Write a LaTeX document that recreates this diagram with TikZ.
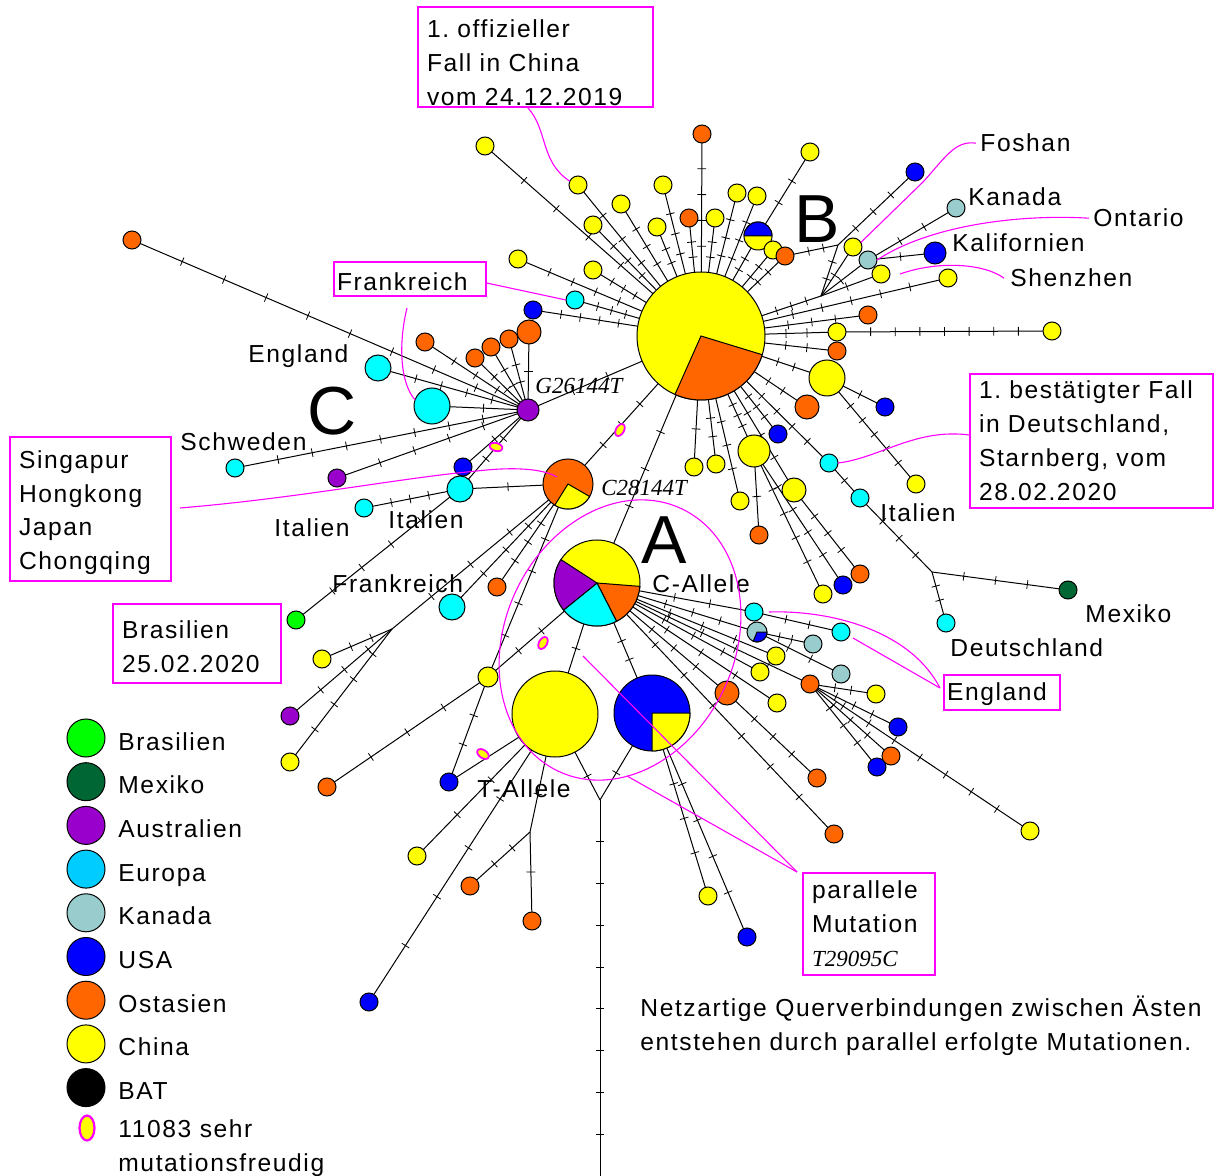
\documentclass[tikz,border=0pt]{standalone}
\usepackage{fontspec}
\setmainfont{Liberation Sans}[LetterSpace=6.5]
\newfontfamily\tnr{Liberation Serif}
\usetikzlibrary{decorations.markings,shapes.geometric}
\definecolor{yel}{HTML}{FFFF00}
\definecolor{org}{HTML}{FF6600}
\definecolor{blu}{HTML}{0000FF}
\definecolor{cyn}{HTML}{00FFFF}
\definecolor{pur}{HTML}{9900CC}
\definecolor{kan}{HTML}{99CCCC}
\definecolor{dgr}{HTML}{006633}
\definecolor{grn}{HTML}{00FF00}
\definecolor{eur}{HTML}{00CCFF}
\definecolor{pnk}{HTML}{FF00FF}
\pgfdeclarelayer{bg}
\pgfsetlayers{bg,main}
\newcommand\fsz{\fontsize{12.3}{17}\selectfont}
\newcommand\fbig{\fontsize{34}{40}\selectfont}
\newcommand\fitl{\fontsize{11.5}{17}\selectfont\tnr\itshape}
\newcommand\tkmark{\draw[line width=0.4pt,black] (0pt,-2.2pt)--(0pt,2.2pt);}
\tikzset{
 nd/.style 2 args={circle,draw=black,line width=0.5pt,fill=#1,minimum size=#2pt,inner sep=0pt,outer sep=0pt},
 ed/.style={line width=0.5pt,draw=black},
 tk/.code={\pgfmathsetmacro\tkst{1/(#1+1)}\pgfmathsetmacro\tken{#1/(#1+1)+0.01}\tikzset{postaction={decorate,decoration={markings,mark=between positions {\tkst} and {\tken} step {\tkst} with {\tkmark}}}}},
 mk/.style={ellipse,draw=pnk,line width=0.9pt,fill=yel,minimum width=6.5pt,minimum height=4pt,inner sep=0pt},
 pl/.style={draw=pnk,line width=0.55pt},
 lab/.style={anchor=base west,inner sep=0pt,font=\fsz},
 big/.style={inner sep=0pt,font=\fbig},
 itl/.style={anchor=base west,inner sep=0pt,font=\fitl},
 bx/.style={draw=pnk,line width=0.6pt,align=left,inner xsep=4.5pt,inner ysep=0pt,font=\fsz},
}
\newcommand\Nd[5]{\node[nd={#4}{#5}] (#1) at (#2,#3) {};}
\newcommand\Ed[3]{\draw[ed,tk=#3] (#1) -- (#2);}
\newcommand\Ez[2]{\draw[ed] (#1) -- (#2);}
\newcommand\Pie[5]{\filldraw[fill=#2,line width=0.5pt] (#1.center) -- ++(#3:#5) arc[start angle=#3,end angle=#4,radius=#5] -- cycle;}
\newcommand\up[1]{\rule{0pt}{#1pt}}
\begin{document}
\begin{tikzpicture}[x=0.5pt,y=-0.5pt]
\useasboundingbox (0,0) rectangle (1216,1176);
% ---------------- hub B and top cluster
\Nd{B}{701}{336}{yel}{64}
\Nd{t1}{485}{146}{yel}{9}
\Nd{t2}{578}{185}{yel}{9}
\Nd{t3}{621}{204}{yel}{9}
\Nd{t4}{593}{225}{yel}{9}
\Nd{t5}{593}{270}{yel}{9}
\Nd{t6}{518}{259}{yel}{9}
\Nd{t7}{575}{300}{cyn}{9}
\Nd{t8}{533}{310}{blu}{9}
\Nd{t9}{663}{185}{yel}{9}
\Nd{t10}{657}{227}{yel}{9}
\Nd{t11}{702}{134}{org}{9}
\Nd{t12}{689}{218}{org}{9}
\Nd{t13}{715}{218}{yel}{9}
\Nd{t14}{737}{193}{yel}{9}
\Nd{t15}{757}{196}{yel}{9}
\Nd{t16}{758}{236}{yel}{14}
\Nd{t17}{810}{152}{yel}{9}
\Nd{t18}{773}{250}{yel}{9}
\Nd{t19}{785}{256}{org}{9}
\coordinate (J1) at (838,245);
\coordinate (J2) at (821,296);
\Nd{r1}{915}{172}{blu}{9}
\Nd{r2}{956}{208}{kan}{9}
\Nd{r3}{853}{247}{yel}{9}
\Nd{r4}{868}{260}{kan}{9}
\Nd{r5}{935}{253}{blu}{11}
\Nd{r6}{881}{274}{yel}{9}
\Nd{r7}{948}{278}{yel}{9}
\Nd{r8}{868}{315}{org}{9}
\Nd{r9}{837}{332}{yel}{9}
\Nd{r10}{1052}{331}{yel}{9}
\Nd{r11}{837}{351}{org}{9}
\Nd{r12}{827}{378}{yel}{18}
\Nd{r13}{885}{407}{blu}{9}
\Nd{r14}{807}{407}{org}{12}
\Nd{r15}{778}{434}{blu}{9}
\Nd{r16}{754}{451}{yel}{16}
\Nd{r17}{829}{463}{cyn}{9}
\Nd{r18}{860}{498}{cyn}{9}
\Nd{r19}{916}{484}{yel}{9}
\coordinate (J3) at (932,572);
\Nd{r20}{1068}{590}{dgr}{9}
\Nd{r21}{946}{623}{cyn}{9}
\Nd{s1}{694}{467}{yel}{9}
\Nd{s2}{716}{464}{yel}{9}
\Nd{s3}{740}{501}{yel}{9}
\Nd{s4}{759}{535}{org}{9}
\Nd{s5}{794}{490}{yel}{12}
\Nd{s6}{860}{574}{org}{9}
\Nd{s7}{843}{585}{blu}{9}
\Nd{s8}{823}{594}{yel}{9}
% ---------------- cluster C
\Nd{G}{528}{410}{pur}{11}
\Nd{l1}{132}{240}{org}{9}
\Nd{l2}{425}{342}{org}{9}
\Nd{l3}{475}{358}{org}{9}
\Nd{l4}{491}{347}{org}{9}
\Nd{l5}{509}{339}{org}{9}
\Nd{l6}{529}{332}{org}{12}
\Nd{l7}{378}{368}{cyn}{13}
\Nd{l8}{432}{406}{cyn}{18}
\Nd{l9}{235}{468}{cyn}{9}
\Nd{l10}{337}{478}{pur}{9}
\Nd{l11}{463}{467}{blu}{9}
\Nd{l12}{460}{489}{cyn}{13}
\Nd{l13}{364}{508}{cyn}{9}
\Nd{l14}{296}{620}{grn}{9}
\Nd{C}{568}{484}{org}{25}
% ---------------- lower left
\coordinate (J4) at (392,629);
\Nd{m1}{322}{659}{yel}{9}
\Nd{m2}{290}{716}{pur}{9}
\Nd{m3}{290}{762}{yel}{9}
\Nd{m4}{452}{607}{cyn}{13}
\Nd{m5}{497}{587}{org}{9}
\Nd{m6}{488}{677}{yel}{10}
\Nd{m7}{327}{787}{org}{9}
\Nd{m8}{449}{782}{blu}{9}
\Nd{A}{597}{583}{yel}{43}
\Nd{T}{555}{714}{yel}{43}
\Nd{P}{652}{713}{blu}{38}
\coordinate (V) at (600,800);
\coordinate (Vb) at (600,1176);
\coordinate (J5) at (530,832);
\Nd{b1}{417}{856}{yel}{9}
\Nd{b2}{369}{1002}{blu}{9}
\Nd{b3}{470}{886}{org}{9}
\Nd{b4}{532}{921}{org}{9}
\Nd{b5}{708}{896}{yel}{9}
\Nd{b6}{747}{937}{blu}{9}
% ---------------- A fan
\Nd{a1}{754}{612}{cyn}{9}
\Nd{a2}{757}{632}{kan}{10}
\Nd{a3}{841}{632}{cyn}{9}
\Nd{a4}{813}{644}{kan}{9}
\Nd{a5}{776}{656}{yel}{9}
\Nd{a6}{760}{672}{yel}{9}
\Nd{a7}{841}{674}{kan}{9}
\Nd{a8}{810}{684}{org}{9}
\Nd{a9}{727}{693}{org}{12}
\Nd{a10}{777}{703}{yel}{9}
\Nd{a11}{876}{694}{yel}{9}
\Nd{a12}{898}{727}{blu}{9}
\Nd{a13}{891}{756}{org}{9}
\Nd{a14}{877}{767}{blu}{9}
\Nd{a15}{817}{778}{org}{9}
\Nd{a16}{834}{834}{org}{9}
\Nd{a17}{1030}{831}{yel}{9}
% ---------------- pie sectors
\Pie{B}{org}{17}{114}{64}
\Pie{t16}{blu}{180}{360}{14}
\Pie{C}{yel}{30}{122}{25}
\Pie{A}{org}{4.5}{63}{43}
\Pie{A}{cyn}{63}{141}{43}
\Pie{A}{pur}{141}{213}{43}
\Pie{P}{yel}{0}{90}{38}
\Pie{a2}{blu}{0}{112}{10}
% ---------------- mutation markers
\node[mk,rotate=-15] (e1) at (496,447) {};
\node[mk,rotate=60] (e2) at (620,430) {};
\node[mk,rotate=60] (e3) at (543,643) {};
\node[mk,rotate=-35] (e4) at (483,754) {};
% ---------------- edges
\begin{pgfonlayer}{bg}
\fill[white] (0,0) rectangle (1216,1176);
\Ed{B}{t1}{4}\Ed{B}{t2}{3}\Ed{B}{t3}{3}\Ed{B}{t4}{3}\Ed{B}{t5}{3}\Ed{B}{t6}{4}
\Ed{B}{t7}{3}\Ed{B}{t8}{4}\Ed{B}{t9}{3}\Ed{B}{t10}{2}\Ed{B}{t11}{4}\Ed{B}{t12}{2}
\Ed{B}{t13}{2}\Ed{B}{t14}{3}\Ed{B}{t15}{3}\Ed{B}{t16}{2}\Ed{t16}{t17}{2}\Ed{B}{t18}{2}
\Ed{B}{t19}{2}\Ed{t19}{J1}{2}\Ed{J1}{r1}{3}\Ed{J1}{J2}{2}\Ed{B}{J2}{3}
\Ed{J2}{r3}{1}\Ed{J2}{r4}{1}\Ed{J2}{r6}{1}\Ed{r4}{r2}{2}\Ed{r4}{r5}{1}
\Ed{B}{r7}{5}\Ed{B}{r8}{3}\Ed{B}{r9}{2}\Ed{r9}{r10}{7}\Ed{B}{r11}{2}
\Ed{B}{r12}{2}\Ed{r12}{r13}{1}\Ed{r12}{r19}{5}\Ed{B}{r14}{2}\Ed{B}{r15}{3}
\Ed{B}{r17}{4}\Ed{r17}{r18}{1}\Ed{r18}{J3}{3}\Ed{J3}{r20}{3}\Ed{J3}{r21}{2}
\Ed{B}{r16}{3}\Ed{r16}{s4}{1}\Ed{r16}{s8}{4}\Ed{r16}{s7}{4}\Ed{B}{s5}{3}\Ed{s5}{s6}{3}
\Ed{B}{s1}{1}\Ed{B}{s2}{2}\Ed{B}{s3}{3}
\Ed{B}{G}{2}\Ed{B}{C}{3}\Ed{B}{A}{3}
\Ed{l1}{G}{8}\Ed{l2}{G}{3}\Ed{l3}{G}{2}\Ed{l4}{G}{2}\Ed{l5}{G}{2}\Ed{l6}{G}{1}
\Ed{l7}{G}{4}\Ed{l8}{G}{1}\Ed{l9}{G}{7}\Ed{l10}{G}{4}\Ed{G}{l11}{1}\Ed{G}{l12}{2}
\Ed{l12}{C}{1}\Ed{l13}{l12}{3}\Ed{l14}{l12}{4}
\Ed{C}{J4}{3}\Ed{J4}{m1}{2}\Ed{J4}{m2}{3}\Ed{J4}{m3}{4}\Ed{C}{m4}{3}\Ed{C}{m5}{3}
\Ed{C}{m6}{4}\Ed{m6}{A}{2}\Ed{m6}{m7}{3}\Ed{m6}{m8}{2}\Ez{m8}{T}
\Ed{T}{b1}{2}\Ed{T}{b2}{4}\Ed{T}{J5}{1}\Ed{J5}{b3}{2}\Ed{J5}{b4}{1}
\Ed{T}{V}{1}\Ed{P}{V}{1}\Ed{V}{Vb}{8}
\Ed{A}{T}{1}\Ed{A}{P}{2}\Ed{P}{b5}{3}\Ed{P}{b6}{4}
\Ed{A}{a1}{2}\Ed{a1}{a3}{2}\Ed{A}{a2}{3}\Ed{a2}{a4}{2}\Ed{a2}{a7}{2}
\Ed{A}{a5}{3}\Ed{A}{a6}{3}\Ed{A}{a8}{4}\Ed{a8}{a11}{2}\Ed{a8}{a12}{3}
\Ed{a8}{a13}{3}\Ed{a8}{a14}{3}\Ed{a8}{a17}{7}\Ed{A}{a9}{3}\Ed{a9}{a15}{3}
\Ed{A}{a16}{6}\Ed{A}{a10}{3}
\end{pgfonlayer}
% ---------------- labels
\node[big] (LA) at (664,540) {A};
\node[big] (LB) at (817,219) {B};
\node[big] (LC) at (332,411) {C};
\node[lab] (n1) at (980,152) {Foshan};
\node[lab] (n2) at (968,206) {Kanada};
\node[lab] (n3) at (1093,227) {Ontario};
\node[lab] (n4) at (952,252) {Kalifornien};
\node[lab] (n5) at (1010,287) {Shenzhen};
\node[lab] (n6) at (248,363) {England};
\node[lab] (n7) at (180,451) {Schweden};
\node[lab] (n8) at (274,537) {Italien};
\node[lab] (n9) at (388,529) {Italien};
\node[lab] (n10) at (332,592) {Frankreich};
\node[lab] (n11) at (880,522) {Italien};
\node[lab] (n12) at (1085,622) {Mexiko};
\node[lab] (n13) at (950,656) {Deutschland};
\node[lab] (n14) at (652,593) {C-Allele};
\node[lab] (n15) at (477,797) {T-Allele};
\node[itl] (n16) at (535,394) {G26144T};
\node[itl] (n17) at (601,495) {C28144T};
\node[lab] (n18) at (640,1016) {Netzartige Querverbindungen zwischen Ästen};
\node[lab] (n19) at (640,1050) {entstehen durch parallel erfolgte Mutationen.};
% ---------------- boxes
\node[bx,text width=108.5pt,minimum height=50pt] (bx1) at (535.5,57) {\up{14.5}1.~offizieller\\Fall~in~China\\vom~24.12.2019};
\node[bx,inner xsep=1.5pt,text width=73pt,minimum height=17pt] (bx2) at (410,279) {\up{12}Frankreich};
\node[bx,text width=71.5pt,minimum height=72pt,font=\fontsize{12.3}{16.8}\selectfont] (bx3) at (90.5,509) {\up{12.5}Singapur\\Hongkong\\Japan\\Chongqing};
\node[bx,text width=75pt,minimum height=39.5pt] (bx4) at (197,643.5) {\up{12}Brasilien\\25.02.2020};
\node[bx,text width=112.5pt,minimum height=67pt] (bx5) at (1091.5,441) {1.~bestätigter~Fall\\in~Deutschland,\\Starnberg,~vom\\28.02.2020};
\node[bx,inner xsep=1.5pt,text width=55pt,minimum height=17.5pt] (bx6) at (1002,692.5) {\up{11}England};
\node[bx,text width=57pt,minimum height=51pt] (bx7) at (869,924) {parallele\\Mutation\\{\fitl T29095C}};
% ---------------- legend
\foreach \c/\t [count=\i from 0] in {grn/Brasilien,dgr/Mexiko,pur/Australien,eur/Europa,kan/Kanada,blu/USA,org/Ostasien,yel/China,black/BAT}{
  \node[nd={\c}{19}] (lg\i) at (86,{738+43.7*\i}) {};
  \node[lab] (lt\i) at (118,{750+43.7*\i}) {\t};
}
\node[ellipse,draw=pnk,line width=1.1pt,fill=yel,minimum width=7.5pt,minimum height=12.5pt,inner sep=0pt] (lge) at (87,1128) {};
\node[lab] (lt9) at (118,1137) {11083 sehr};
\node[lab] (lt10) at (118,1171) {mutationsfreudig};
% ---------------- pink pointers
\coordinate (q1) at (407,308);
\coordinate (q2) at (180,508);
\coordinate (q3) at (557,477);
\coordinate (q4) at (583,656);
\coordinate (q5) at (627,776);
\coordinate (q6) at (797,872);
\coordinate (q7) at (769,612);
\coordinate (q8) at (853,638);
\coordinate (q9) at (940,688);
\coordinate (q10) at (528,108);
\draw[pl] (q10) .. controls (548,130) and (540,162) .. (t2.155);
\draw[pl] ([yshift=-2pt]bx2.east) -- (t7.west);
\draw[pl] (q1) .. controls (399,340) and (399,382) .. (l8.160);
\draw[pl] (q2) .. controls (300,498) and (400,478) .. (477,471) .. controls (520,466) and (545,470) .. (q3);
\draw[pl] ([yshift=3pt]bx5.west) .. controls (915,428) and (880,458) .. (r17.east);
\draw[pl] ([xshift=-2pt]n1.west) .. controls (955,140) and (945,158) .. (923,182) -- (r3.30);
\draw[pl] ([xshift=-2pt]n3.west) .. controls (1020,214) and (930,225) .. (r4.east);
\draw[pl] ([xshift=-3pt]n5.west) .. controls (985,264) and (940,260) .. ([xshift=5pt]r6.east);
\draw[pl] (q7) .. controls (830,610) and (910,630) .. (q9);
\draw[pl] (q8) -- (q9);
\draw[pl] (q4) -- (q6);
\draw[pl] (q5) -- (q6);
\draw[pl,rotate around={-25:(620,640)}] (620,640) ellipse[x radius=115,y radius=145];
\end{tikzpicture}
\end{document}
